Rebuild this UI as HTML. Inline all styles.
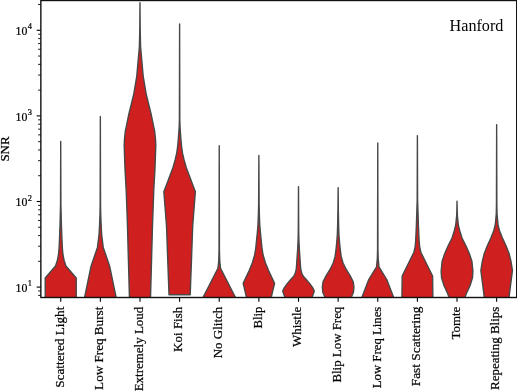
<!DOCTYPE html>
<html><head><meta charset="utf-8"><title>Hanford SNR</title>
<style>html,body{margin:0;padding:0;background:#fff;overflow:hidden}svg{display:block}</style></head>
<body>
<svg width="517" height="391" viewBox="0 0 517 391">
<rect width="517" height="391" fill="#fff"/>
<defs><clipPath id="ax"><rect x="40.85" y="0.5" width="475.85" height="297.0"/></clipPath></defs>
<g clip-path="url(#ax)" stroke="#484848" stroke-width="1.4" stroke-linejoin="round" fill="#cf1f1f">
<path d="M60.72,141.40 L60.92,205.00 L61.42,225.00 L61.97,240.00 L62.37,248.20 L62.97,254.70 L64.12,260.50 L65.92,266.00 L76.22,278.00 L76.22,299.00 L45.22,299.00 L45.22,278.00 L55.52,266.00 L57.32,260.50 L58.47,254.70 L59.07,248.20 L59.47,240.00 L60.02,225.00 L60.52,205.00Z"/>
<path d="M100.35,116.50 L100.55,205.00 L100.75,215.00 L101.15,225.00 L101.65,234.70 L103.25,247.40 L109.65,266.20 L116.45,299.00 L84.25,299.00 L91.05,266.20 L97.45,247.40 L99.05,234.70 L99.55,225.00 L99.95,215.00 L100.15,205.00Z"/>
<path d="M139.98,2.60 L140.18,29.00 L140.58,46.70 L143.18,76.00 L146.28,94.50 L151.08,113.90 L154.68,131.40 L155.48,139.00 L155.78,145.50 L154.98,168.70 L153.78,190.00 L152.48,226.00 L150.48,299.00 L129.48,299.00 L127.48,226.00 L126.18,190.00 L124.98,168.70 L124.18,145.50 L124.48,139.00 L125.28,131.40 L128.88,113.90 L133.68,94.50 L136.78,76.00 L139.38,46.70 L139.78,29.00Z"/>
<path d="M179.61,23.90 L179.81,120.00 L180.11,128.00 L180.81,138.00 L181.46,145.50 L182.51,153.20 L184.11,160.00 L186.31,167.70 L195.36,191.70 L192.71,226.00 L190.21,294.80 L179.61,294.80 L179.61,294.80 L169.01,294.80 L166.51,226.00 L163.86,191.70 L172.91,167.70 L175.11,160.00 L176.71,153.20 L177.76,145.50 L178.41,138.00 L179.11,128.00 L179.41,120.00Z"/>
<path d="M219.24,145.70 L219.44,250.00 L219.64,258.00 L219.94,263.00 L220.54,268.30 L236.24,299.00 L202.24,299.00 L217.94,268.30 L218.54,263.00 L218.84,258.00 L219.04,250.00Z"/>
<path d="M258.87,155.50 L259.12,205.00 L259.37,215.00 L259.77,225.00 L260.37,232.00 L261.17,240.00 L261.97,248.00 L263.17,255.30 L265.47,263.00 L268.57,270.60 L269.97,273.60 L274.57,283.40 L270.87,299.00 L246.87,299.00 L243.17,283.40 L247.77,273.60 L249.17,270.60 L252.27,263.00 L254.57,255.30 L255.77,248.00 L256.57,240.00 L257.37,232.00 L257.97,225.00 L258.37,215.00 L258.62,205.00Z"/>
<path d="M298.50,186.60 L298.70,230.00 L298.90,240.00 L299.40,250.00 L299.70,254.20 L300.10,260.00 L300.40,265.00 L300.80,269.50 L302.00,273.90 L303.50,276.60 L306.00,279.30 L309.20,282.90 L312.50,287.40 L314.30,291.00 L312.50,296.30 L311.20,299.00 L285.80,299.00 L284.50,296.30 L282.70,291.00 L284.50,287.40 L287.80,282.90 L291.00,279.30 L293.50,276.60 L295.00,273.90 L296.20,269.50 L296.60,265.00 L296.90,260.00 L297.30,254.20 L297.60,250.00 L298.10,240.00 L298.30,230.00Z"/>
<path d="M338.13,187.60 L338.33,210.00 L338.63,225.00 L338.93,234.70 L339.73,244.50 L340.33,250.00 L341.18,256.40 L342.98,262.80 L346.08,269.20 L350.08,275.60 L353.23,281.90 L353.93,287.00 L353.48,292.20 L351.63,296.60 L350.53,299.00 L325.73,299.00 L324.63,296.60 L322.78,292.20 L322.33,287.00 L323.03,281.90 L326.18,275.60 L330.18,269.20 L333.28,262.80 L335.08,256.40 L335.93,250.00 L336.53,244.50 L337.33,234.70 L337.63,225.00 L337.93,210.00Z"/>
<path d="M377.76,143.00 L377.96,250.00 L378.16,258.00 L378.96,266.80 L386.76,279.50 L394.26,299.00 L361.26,299.00 L368.76,279.50 L376.56,266.80 L377.36,258.00 L377.56,250.00Z"/>
<path d="M417.39,135.60 L417.59,200.00 L418.39,225.00 L419.09,240.60 L419.59,246.00 L420.09,249.00 L420.99,252.50 L432.59,276.00 L432.89,299.00 L401.89,299.00 L402.19,276.00 L413.79,252.50 L414.69,249.00 L415.19,246.00 L415.69,240.60 L416.39,225.00 L417.19,200.00Z"/>
<path d="M457.02,201.20 L457.22,212.00 L457.42,216.00 L458.32,225.00 L459.82,231.00 L462.02,238.00 L465.92,245.70 L469.32,253.50 L471.92,261.20 L472.92,271.30 L472.47,277.70 L470.12,285.50 L466.52,293.20 L464.92,297.50 L464.32,299.00 L449.72,299.00 L449.12,297.50 L447.52,293.20 L443.92,285.50 L441.57,277.70 L441.12,271.30 L442.12,261.20 L444.72,253.50 L448.12,245.70 L452.02,238.00 L454.22,231.00 L455.72,225.00 L456.62,216.00 L456.82,212.00Z"/>
<path d="M496.65,124.60 L496.85,205.00 L497.05,214.00 L498.05,225.00 L499.65,231.00 L502.45,238.00 L506.00,245.70 L509.05,253.50 L510.95,261.20 L512.45,270.50 L510.65,284.40 L508.85,299.00 L484.45,299.00 L482.65,284.40 L480.85,270.50 L482.35,261.20 L484.25,253.50 L487.30,245.70 L490.85,238.00 L493.65,231.00 L495.25,225.00 L496.25,214.00 L496.45,205.00Z"/>
</g>
<g stroke="#000" stroke-width="1.1" fill="none">
<path d="M36.65,287.10H40.85"/>
<path d="M36.65,201.50H40.85"/>
<path d="M36.65,115.90H40.85"/>
<path d="M36.65,30.30H40.85"/>
</g><g stroke="#000" stroke-width="0.9" fill="none">
<path d="M38.15,295.40H40.85"/>
<path d="M38.15,291.02H40.85"/>
<path d="M38.15,261.33H40.85"/>
<path d="M38.15,246.26H40.85"/>
<path d="M38.15,235.56H40.85"/>
<path d="M38.15,227.27H40.85"/>
<path d="M38.15,220.49H40.85"/>
<path d="M38.15,214.76H40.85"/>
<path d="M38.15,209.80H40.85"/>
<path d="M38.15,205.42H40.85"/>
<path d="M38.15,175.73H40.85"/>
<path d="M38.15,160.66H40.85"/>
<path d="M38.15,149.96H40.85"/>
<path d="M38.15,141.67H40.85"/>
<path d="M38.15,134.89H40.85"/>
<path d="M38.15,129.16H40.85"/>
<path d="M38.15,124.20H40.85"/>
<path d="M38.15,119.82H40.85"/>
<path d="M38.15,90.13H40.85"/>
<path d="M38.15,75.06H40.85"/>
<path d="M38.15,64.36H40.85"/>
<path d="M38.15,56.07H40.85"/>
<path d="M38.15,49.29H40.85"/>
<path d="M38.15,43.56H40.85"/>
<path d="M38.15,38.60H40.85"/>
<path d="M38.15,34.22H40.85"/>
<path d="M38.15,4.53H40.85"/>
</g><g stroke="#000" stroke-width="1.1" fill="none">
<path d="M60.72,297.50V301.70"/>
<path d="M100.35,297.50V301.70"/>
<path d="M139.98,297.50V301.70"/>
<path d="M179.61,297.50V301.70"/>
<path d="M219.24,297.50V301.70"/>
<path d="M258.87,297.50V301.70"/>
<path d="M298.50,297.50V301.70"/>
<path d="M338.13,297.50V301.70"/>
<path d="M377.76,297.50V301.70"/>
<path d="M417.39,297.50V301.70"/>
<path d="M457.02,297.50V301.70"/>
<path d="M496.65,297.50V301.70"/>
</g>
<rect x="40.85" y="0.5" width="475.85" height="297.0" fill="none" stroke="#111" stroke-width="1.4"/>
<g font-family="'Liberation Serif', serif" fill="#000" stroke="#000" stroke-width="0.22">
<text x="15.5" y="291.80" font-size="12.6" textLength="11.8" lengthAdjust="spacingAndGlyphs">10</text>
<text x="27.8" y="286.20" font-size="8.5" textLength="4.2" lengthAdjust="spacingAndGlyphs">1</text>
<text x="15.5" y="206.20" font-size="12.6" textLength="11.8" lengthAdjust="spacingAndGlyphs">10</text>
<text x="27.8" y="200.60" font-size="8.5" textLength="4.2" lengthAdjust="spacingAndGlyphs">2</text>
<text x="15.5" y="120.60" font-size="12.6" textLength="11.8" lengthAdjust="spacingAndGlyphs">10</text>
<text x="27.8" y="115.00" font-size="8.5" textLength="4.2" lengthAdjust="spacingAndGlyphs">3</text>
<text x="15.5" y="35.00" font-size="12.6" textLength="11.8" lengthAdjust="spacingAndGlyphs">10</text>
<text x="27.8" y="29.40" font-size="8.5" textLength="4.2" lengthAdjust="spacingAndGlyphs">4</text>
<text transform="translate(63.52,306.7) rotate(-90)" text-anchor="end" font-size="12.8" textLength="81.1" lengthAdjust="spacingAndGlyphs">Scattered Light</text>
<text transform="translate(103.15,306.7) rotate(-90)" text-anchor="end" font-size="12.8" textLength="83.2" lengthAdjust="spacingAndGlyphs">Low Freq Burst</text>
<text transform="translate(142.78,306.7) rotate(-90)" text-anchor="end" font-size="12.8" textLength="84.6" lengthAdjust="spacingAndGlyphs">Extremely Loud</text>
<text transform="translate(182.41,306.7) rotate(-90)" text-anchor="end" font-size="12.8" textLength="45.2" lengthAdjust="spacingAndGlyphs">Koi Fish</text>
<text transform="translate(222.04,306.7) rotate(-90)" text-anchor="end" font-size="12.8" textLength="51.6" lengthAdjust="spacingAndGlyphs">No Glitch</text>
<text transform="translate(261.67,306.7) rotate(-90)" text-anchor="end" font-size="12.8" textLength="21.9" lengthAdjust="spacingAndGlyphs">Blip</text>
<text transform="translate(301.30,306.7) rotate(-90)" text-anchor="end" font-size="12.8" textLength="40.4" lengthAdjust="spacingAndGlyphs">Whistle</text>
<text transform="translate(340.93,306.7) rotate(-90)" text-anchor="end" font-size="12.8" textLength="75.9" lengthAdjust="spacingAndGlyphs">Blip Low Freq</text>
<text transform="translate(380.56,306.7) rotate(-90)" text-anchor="end" font-size="12.8" textLength="81.5" lengthAdjust="spacingAndGlyphs">Low Freq Lines</text>
<text transform="translate(420.19,306.7) rotate(-90)" text-anchor="end" font-size="12.8" textLength="79.5" lengthAdjust="spacingAndGlyphs">Fast Scattering</text>
<text transform="translate(459.82,306.7) rotate(-90)" text-anchor="end" font-size="12.8" textLength="32.7" lengthAdjust="spacingAndGlyphs">Tomte</text>
<text transform="translate(499.45,306.7) rotate(-90)" text-anchor="end" font-size="12.8" textLength="83.3" lengthAdjust="spacingAndGlyphs">Repeating Blips</text>
<text transform="translate(9.3,149) rotate(-90)" text-anchor="middle" font-size="12.8" textLength="25.2" lengthAdjust="spacingAndGlyphs">SNR</text>
<text x="449.6" y="30.6" stroke="none" font-size="16.8" textLength="53.8" lengthAdjust="spacingAndGlyphs">Hanford</text>
</g>
</svg>
</body></html>
